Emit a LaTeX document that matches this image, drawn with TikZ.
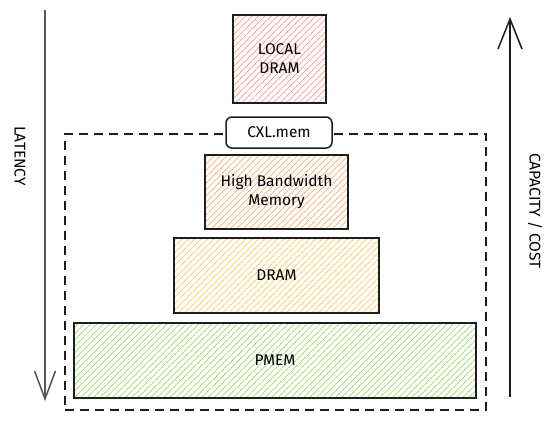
\documentclass[tikz,border=0pt]{standalone}
\usepackage{fontspec}
\setmainfont{Fira Sans}
\usetikzlibrary{arrows.meta,patterns.meta,positioning}
\definecolor{ink}{RGB}{30,30,30}
\definecolor{hatchred}{RGB}{255,150,150}
\definecolor{hatchorange}{RGB}{255,170,110}
\definecolor{hatchyellow}{RGB}{255,200,90}
\definecolor{hatchgreen}{RGB}{160,215,100}
\tikzstyle{tier}=[
	rectangle,
	draw=ink,
	line width=1.5,
	inner sep=0,
	align=center,
	font=\fontsize{15.5}{19}\selectfont]
\tikzstyle{hatched}=[
	pattern={Lines[angle=45,distance=4.5pt,line width=0.7pt]}]
\tikzstyle{pill}=[
	rectangle,
	rounded corners=6,
	draw=ink,
	fill=white,
	line width=1.5,
	inner sep=0,
	font=\fontsize{15.5}{19}\selectfont]
\tikzstyle{axis}=[
	line width=1.5,
	draw=ink]

\begin{document}
\begin{tikzpicture}[x=1pt,y=-1pt]
	\useasboundingbox (0,0) rectangle (556,421);
	% dashed frame round the CXL tiers
	\node[draw=ink,line width=1.5,dash pattern=on 9pt off 6pt,
		minimum width=421,minimum height=276,inner sep=0]	(cxl frame)	at (275.5,272) {};
	\node[tier,hatched,pattern color=hatchred,minimum width=93,minimum height=88]
		(local)	at (279.5,59)	{LOCAL\\DRAM};
	\node[pill,minimum width=106,minimum height=31]	(cxl)	at (279,132.5)	{CXL.mem};
	\node[tier,hatched,pattern color=hatchorange,minimum width=143,minimum height=74]
		(hbm)	at (276.5,192)	{High Bandwidth\\Memory};
	\node[tier,hatched,pattern color=hatchyellow,minimum width=205,minimum height=75]
		(dram)	at (276.5,275.5)	{DRAM};
	\node[tier,hatched,pattern color=hatchgreen,minimum width=402,minimum height=75]
		(pmem)	at (275,360.5)	{PMEM};
	% axes
	\coordinate (lat top)	at (45,10);
	\coordinate (lat end)	at (45,401);
	\coordinate (cap low)	at (510,397);
	\coordinate (cap top)	at (510,17);
	\draw[axis,draw=ink!75,-{Straight Barb[length=28pt,width=21pt,line width=1.5pt]}] (lat top) -- (lat end);
	\draw[axis,-{Straight Barb[length=30pt,width=24pt,line width=1.5pt]}] (cap low) -- (cap top);
	\node[rotate=-90,font=\fontsize{15.5}{19}\selectfont]	(latency)	at (20,156)	{LATENCY};
	\node[rotate=-90,font=\fontsize{15.5}{19}\selectfont]	(capacity)	at (535,211)	{CAPACITY / COST};
\end{tikzpicture}
\end{document}
